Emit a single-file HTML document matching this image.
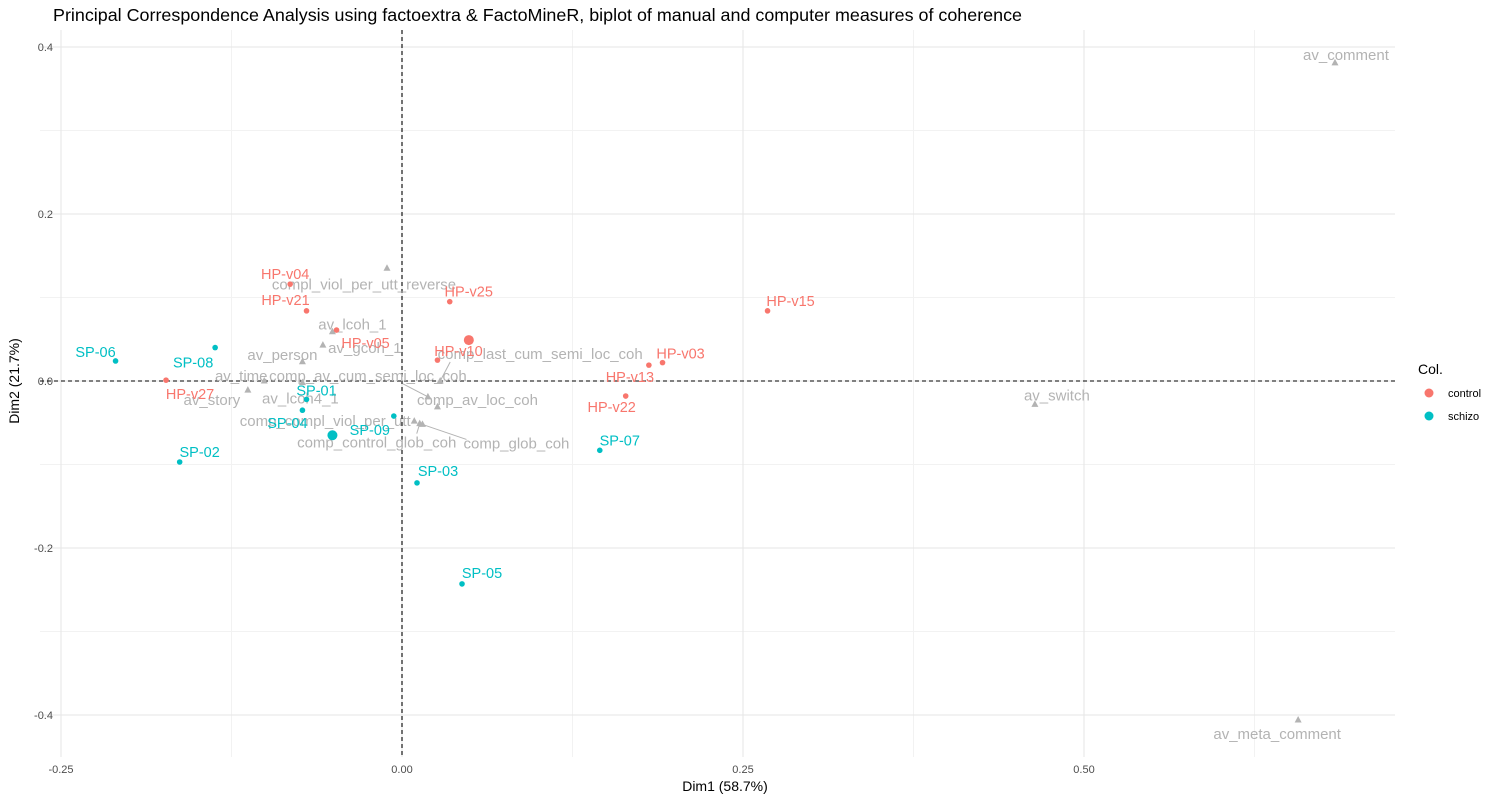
<!DOCTYPE html>
<html><head><meta charset="utf-8"><style>
body{margin:0;background:#fff;}
svg{display:block;font-family:"Liberation Sans",Arial,sans-serif;}
</style></head><body>
<svg id="chart" width="1500" height="800"></svg>
<script>
const indNames=["HP-v04","HP-v21","HP-v05","HP-v25","HP-v10","HP-v15","HP-v03","HP-v13","HP-v22","HP-v27","SP-06","SP-08","SP-01","SP-04","SP-09","SP-02","SP-03","SP-05","SP-07"];
const indX=[-0.082,-0.070,-0.048,0.035,0.026,0.268,0.191,0.181,0.164,-0.173,-0.210,-0.137,-0.070,-0.073,-0.006,-0.163,0.011,0.044,0.145];
const indY=[0.116,0.084,0.061,0.095,0.025,0.084,0.022,0.019,-0.018,0.001,0.024,0.040,-0.022,-0.035,-0.042,-0.097,-0.122,-0.243,-0.083];
const indGroup=["control","control","control","control","control","control","control","control","control","control","schizo","schizo","schizo","schizo","schizo","schizo","schizo","schizo","schizo"];
const centroidGroups=["control","schizo"];
const centroidX=[0.049,-0.051];
const centroidY=[0.049,-0.065];
const varNames=["compl_viol_per_utt_reverse","av_lcoh_1","av_gcoh_1","av_person","av_time","av_story","av_lcoh4_1","comp_compl_viol_per_utt","comp_control_glob_coh","comp_glob_coh","av_comment","av_switch","av_meta_comment","comp_last_cum_semi_loc_coh","comp_av_cum_semi_loc_coh","comp_av_loc_coh"];
const varX=[-0.011,-0.051,-0.058,-0.073,-0.101,-0.113,-0.073,0.009,0.013,0.015,0.684,0.464,0.657,0.028,0.019,0.026];
const varY=[0.135,0.059,0.043,0.023,0.0,-0.011,-0.002,-0.048,-0.051,-0.052,0.381,-0.028,-0.406,0.0,-0.019,-0.031];
const xTicks=[-0.25,0,0.25,0.5];
const xTickLabels=["-0.25","0.00","0.25","0.50"];
const yTicks=[-0.4,-0.2,0,0.2,0.4];
const yTickLabels=["-0.4","-0.2","0.0","0.2","0.4"];
// label offsets (styling)
const indLab=[[-5,-10],[-21,-11],[29,13],[19,-10],[21,-9],[23,-10],[18,-9],[-19,12],[-14,11],[24,14],[-20,-9],[-22,15],[10,-9],[-15,13],[-24,14],[20,-10],[21,-12],[20,-11],[20,-10]];
const varLab=[[-23,16],[20,-7],[42,3],[-20,-7],[-23,-5],[-36,10],[-2,16],[-89,0],[-43,19],[94,19],[11,-8],[22,-9],[-21,14],[100,-27],[-60,-21],[40,-7]];
const segVars=["comp_glob_coh","comp_last_cum_semi_loc_coh","comp_av_cum_semi_loc_coh","comp_control_glob_coh"];

const X0=40,X1=1395,Y0=30,Y1=757;
const sx=v=>402+v*1364;
const sy=v=>381-v*835;
const col={control:"#F8766D",schizo:"#00BFC4"};
const NS="http://www.w3.org/2000/svg";
const svg=document.getElementById('chart');
function mk(t,a,p){const e=document.createElementNS(NS,t);for(const k in a)e.setAttribute(k,a[k]);(p||svg).appendChild(e);return e;}

const title=mk('text',{x:53,y:21,'font-size':17.5,fill:'#000',textLength:969,lengthAdjust:'spacingAndGlyphs'});
title.textContent="Principal Correspondence Analysis using factoextra & FactoMineR, biplot of manual and computer measures of coherence";



const grid=mk('g',{});


[-0.125,0.125,0.375,0.625].forEach(v=>mk('line',{x1:sx(v),x2:sx(v),y1:Y0,y2:Y1,stroke:'#f2f2f2','stroke-width':1},grid));
[-0.3,-0.1,0.1,0.3].forEach(v=>mk('line',{x1:X0,x2:X1,y1:sy(v),y2:sy(v),stroke:'#f2f2f2','stroke-width':1},grid));
xTicks.forEach(v=>mk('line',{x1:sx(v),x2:sx(v),y1:Y0,y2:Y1,stroke:'#e6e6e6','stroke-width':1.1},grid));
yTicks.forEach(v=>mk('line',{x1:X0,x2:X1,y1:sy(v),y2:sy(v),stroke:'#e6e6e6','stroke-width':1.1},grid));

const xa=mk('g',{});


xTicks.forEach((v,i)=>{const t=mk('text',{x:sx(v),y:773,'font-size':11,fill:'#4d4d4d','text-anchor':'middle'},xa);t.textContent=xTickLabels[i];});
const ya=mk('g',{});


yTicks.forEach((v,i)=>{const t=mk('text',{x:53,y:sy(v)+4,'font-size':11,fill:'#4d4d4d','text-anchor':'end'},ya);t.textContent=yTickLabels[i];});
const xt=mk('text',{x:725,y:791,'font-size':14,fill:'#000','text-anchor':'middle'});
xt.textContent="Dim1 (58.7%)";


const yt=mk('text',{x:0,y:0,'font-size':14,fill:'#000','text-anchor':'middle',transform:'translate(19,381) rotate(-90)'});
yt.textContent="Dim2 (21.7%)";



const zl=mk('g',{});


mk('line',{x1:sx(0),x2:sx(0),y1:Y0,y2:Y1,stroke:'#000','stroke-dasharray':'4,3','stroke-width':1.1},zl);
mk('line',{x1:X0,x2:X1,y1:sy(0),y2:sy(0),stroke:'#000','stroke-dasharray':'4,3','stroke-width':1.1},zl);

// variables
const vg=mk('g',{});


varNames.forEach((n,i)=>{
  const px=sx(varX[i]),py=sy(varY[i]);
  const lx=px+varLab[i][0],ly=py+varLab[i][1];
  if(segVars.includes(n)){mk('line',{x1:lx+(n==="comp_glob_coh"?-50:n==="comp_last_cum_semi_loc_coh"?-90:n==="comp_av_cum_semi_loc_coh"?35:40),y1:ly+(n==="comp_control_glob_coh"?-9:n==="comp_glob_coh"?-4:8),x2:px,y2:py,stroke:'#b3b3b3','stroke-width':1},vg);}
  const tr=mk('path',{d:`M${px},${py-4}L${px+3.5},${py+2.5}L${px-3.5},${py+2.5}Z`,fill:'#b3b3b3'},vg);
  
  
  const t=mk('text',{x:lx,y:ly+5,'font-size':15,fill:'#b3b3b3','text-anchor':'middle'},vg);
  t.textContent=n;
});

// individuals
const ig=mk('g',{});


indNames.forEach((n,i)=>{
  const px=sx(indX[i]),py=sy(indY[i]),c=col[indGroup[i]];
  const p=mk('circle',{cx:px,cy:py,r:2.8,fill:c},ig);
  
  
  const t=mk('text',{x:px+indLab[i][0],y:py+indLab[i][1]+5,'font-size':14.5,fill:c,'text-anchor':'middle'},ig);
  t.textContent=n;
});
centroidGroups.forEach((g,i)=>{
  const p=mk('circle',{cx:sx(centroidX[i]),cy:sy(centroidY[i]),r:5,fill:col[g]},ig);
  
  
});

// legend
const lg=mk('g',{});


const lt=mk('text',{x:1418,y:374,'font-size':14,fill:'#000'},lg);
lt.textContent="Col.";
["control","schizo"].forEach((g,i)=>{
  const e=mk('g',{},lg);
  
  
  mk('circle',{cx:1429,cy:393+i*23,r:4.5,fill:col[g]},e);
  const t=mk('text',{x:1448,y:397+i*23,'font-size':11,fill:'#000'},e);
  t.textContent=g;
});
</script>
</body></html>
